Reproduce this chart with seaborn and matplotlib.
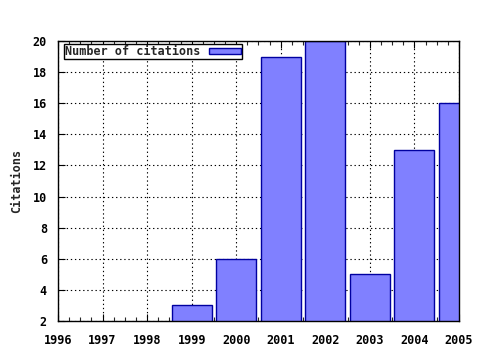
import matplotlib
matplotlib.use("Agg")
import matplotlib.pyplot as plt
import seaborn as sns
import numpy as np
from matplotlib.ticker import MultipleLocator, NullLocator

years = [1996, 1997, 1998, 1999, 2000, 2001, 2002, 2003, 2004, 2005]
citations = [0, 0, 0, 3, 6, 19, 20, 5, 13, 16]
series_label = "Number of citations"
y_label = "Citations"

sns.set_style("white")
plt.rcParams['font.family'] = ['DejaVu Sans Mono', 'DejaVu Sans']
plt.rcParams['font.weight'] = 'bold'

fig = plt.figure(figsize=(4.8, 3.5), dpi=100)
L, R, T, B = 58, 459, 41, 321
ax = fig.add_axes([L/480, 1 - B/350, (R-L)/480, (B-T)/350])

sns.barplot(x=years, y=citations, native_scale=True, width=0.9,
            color="#8080ff", edgecolor="#0000a0", linewidth=1.0,
            saturation=1, ax=ax, label=series_label, zorder=3)

ax.set_xlim(1996, 2005)
ax.set_ylim(2, 20)
ax.set_xticks(years)
ax.set_xticklabels([str(y) for y in years], fontsize=8.5, fontweight='bold')
ax.xaxis.set_minor_locator(MultipleLocator(0.25))
ax.set_yticks(range(2, 21, 2))
ax.set_yticklabels([str(v) for v in range(2, 21, 2)], fontsize=8.5, fontweight='bold')
ax.yaxis.set_minor_locator(NullLocator())
ax.tick_params(axis='x', which='major', direction='in', length=5, width=0.8,
               top=True, bottom=True, pad=9, colors='black')
ax.tick_params(axis='y', which='major', direction='in', length=5, width=0.8,
               left=True, right=False, pad=8, colors='black')
ax.tick_params(axis='x', which='minor', direction='in', length=3, width=0.8,
               top=True, bottom=True)
ax.grid(True, which='major', linestyle=(0, (1.2, 2.5)), color='black', linewidth=0.8, zorder=0)
ax.set_axisbelow(True)
for s in ax.spines.values():
    s.set_color('black')
    s.set_linewidth(1.0)
    s.set_zorder(5)
ax.set_xlabel("")
ax.set_ylabel(y_label, fontsize=8.5, fontweight='bold', labelpad=7)

leg = ax.legend(loc='upper left', bbox_to_anchor=(6/(R-L), 1 - 3/(B-T)),
                markerfirst=False, fancybox=False,
                framealpha=1, edgecolor='black', fontsize=8.5,
                borderpad=0.1, handlelength=2.7, handleheight=0.5,
                borderaxespad=0, handletextpad=0.7)
leg.get_frame().set_linewidth(1.0)
for t in leg.get_texts():
    t.set_fontweight('bold')

fig.savefig("out.png", dpi=100)
